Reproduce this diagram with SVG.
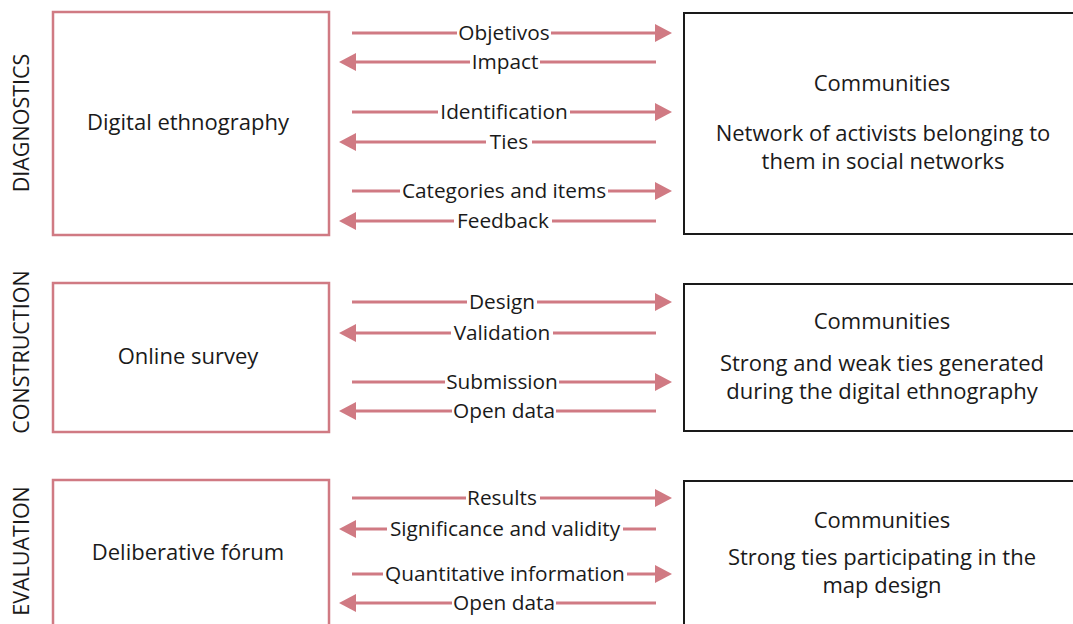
<svg xmlns="http://www.w3.org/2000/svg" width="1073" height="624" viewBox="0 0 1073 624">
  <defs>
    <style>
      .phase { fill: #fff; stroke: #d07a83; stroke-width: 2.5; }
      .comm { fill: #fff; stroke: #1a1a1a; stroke-width: 2; }
      .txt { font-family: "Open Sans", "Liberation Sans", sans-serif; font-size: 22px; fill: #1a1a1a; text-anchor: middle; }
      .side { font-family: "Open Sans", "Liberation Sans", sans-serif; font-size: 21.5px; fill: #1a1a1a; text-anchor: middle; }
      .flow line { stroke: #d07a83; stroke-width: 3; }
      .flow rect { fill: #fff; }
      .lbl { font-family: "Open Sans", "Liberation Sans", sans-serif; font-size: 20.8px; fill: #1a1a1a; text-anchor: middle; }
    </style>
    <!-- arrow pointing right, tip at origin -->
    <polygon id="headR" points="-17,-9 0,0 -17,9" fill="#d07a83"/>
    <!-- arrow pointing left, tip at origin -->
    <polygon id="headL" points="17,-9 0,0 17,9" fill="#d07a83"/>
  </defs>

  <!-- phase titles -->
  <text class="side" transform="translate(28.5,123) rotate(-90)">DIAGNOSTICS</text>
  <text class="side" transform="translate(28.5,352) rotate(-90)">CONSTRUCTION</text>
  <text class="side" transform="translate(28.5,551) rotate(-90)">EVALUATION</text>

  <!-- left column: methods -->
  <g id="digital-ethnography">
    <rect class="phase" x="53" y="12" width="276" height="223"/>
    <text class="txt" x="188" y="130">Digital ethnography</text>
  </g>
  <g id="online-survey">
    <rect class="phase" x="53" y="283" width="276" height="149"/>
    <text class="txt" x="188" y="364">Online survey</text>
  </g>
  <g id="deliberative-forum">
    <rect class="phase" x="53" y="480" width="276" height="160"/>
    <text class="txt" x="188" y="560">Deliberative fórum</text>
  </g>

  <!-- right column: communities -->
  <g id="communities-1">
    <rect class="comm" x="684" y="13" width="396" height="221"/>
    <text class="txt" x="882" y="91">Communities</text>
    <text class="txt" x="883" y="141">Network of activists belonging to</text>
    <text class="txt" x="883" y="169">them in social networks</text>
  </g>
  <g id="communities-2">
    <rect class="comm" x="684" y="284" width="396" height="147"/>
    <text class="txt" x="882" y="329">Communities</text>
    <text class="txt" x="882" y="371">Strong and weak ties generated</text>
    <text class="txt" x="882" y="399">during the digital ethnography</text>
  </g>
  <g id="communities-3">
    <rect class="comm" x="684" y="481" width="396" height="160"/>
    <text class="txt" x="882" y="528">Communities</text>
    <text class="txt" x="882" y="565">Strong ties participating in the</text>
    <text class="txt" x="882" y="593">map design</text>
  </g>

  <!-- connectors -->
  <g id="connectors" class="flow">
    <!-- diagnostics -->
    <line x1="352" y1="33" x2="656" y2="33"/><use href="#headR" x="672" y="33"/>
    <line x1="355" y1="62" x2="656" y2="62"/><use href="#headL" x="339" y="62"/>
    <line x1="352" y1="112" x2="656" y2="112"/><use href="#headR" x="672" y="112"/>
    <line x1="355" y1="142" x2="656" y2="142"/><use href="#headL" x="339" y="142"/>
    <line x1="352" y1="191" x2="656" y2="191"/><use href="#headR" x="672" y="191"/>
    <line x1="355" y1="221" x2="656" y2="221"/><use href="#headL" x="339" y="221"/>
    <!-- construction -->
    <line x1="352" y1="302" x2="656" y2="302"/><use href="#headR" x="672" y="302"/>
    <line x1="355" y1="333" x2="656" y2="333"/><use href="#headL" x="339" y="333"/>
    <line x1="352" y1="382" x2="656" y2="382"/><use href="#headR" x="672" y="382"/>
    <line x1="355" y1="411" x2="656" y2="411"/><use href="#headL" x="339" y="411"/>
    <!-- evaluation -->
    <line x1="352" y1="498" x2="656" y2="498"/><use href="#headR" x="672" y="498"/>
    <line x1="355" y1="529" x2="656" y2="529"/><use href="#headL" x="339" y="529"/>
    <line x1="352" y1="574" x2="656" y2="574"/><use href="#headR" x="672" y="574"/>
    <line x1="355" y1="603" x2="656" y2="603"/><use href="#headL" x="339" y="603"/>

    <!-- label backgrounds -->
    <rect x="457" y="22" width="94" height="22"/>
    <rect x="470" y="51" width="70" height="22"/>
    <rect x="438" y="101" width="132" height="22"/>
    <rect x="486" y="131" width="46" height="22"/>
    <rect x="400" y="180" width="208" height="22"/>
    <rect x="454" y="210" width="98" height="22"/>
    <rect x="467" y="291" width="70" height="22"/>
    <rect x="451" y="322" width="102" height="22"/>
    <rect x="445" y="371" width="114" height="22"/>
    <rect x="452" y="400" width="104" height="22"/>
    <rect x="466" y="487" width="74" height="22"/>
    <rect x="387" y="518" width="236" height="22"/>
    <rect x="383" y="563" width="244" height="22"/>
    <rect x="452" y="592" width="104" height="22"/>

    <text class="lbl" x="504" y="40">Objetivos</text>
    <text class="lbl" x="505" y="69">Impact</text>
    <text class="lbl" x="504" y="119">Identification</text>
    <text class="lbl" x="509" y="149">Ties</text>
    <text class="lbl" x="504" y="198">Categories and items</text>
    <text class="lbl" x="503" y="228">Feedback</text>
    <text class="lbl" x="502" y="309">Design</text>
    <text class="lbl" x="502" y="340">Validation</text>
    <text class="lbl" x="502" y="389">Submission</text>
    <text class="lbl" x="504" y="418">Open data</text>
    <text class="lbl" x="502" y="505">Results</text>
    <text class="lbl" x="505" y="536">Significance and validity</text>
    <text class="lbl" x="505" y="581">Quantitative information</text>
    <text class="lbl" x="504" y="610">Open data</text>
  </g>
</svg>
